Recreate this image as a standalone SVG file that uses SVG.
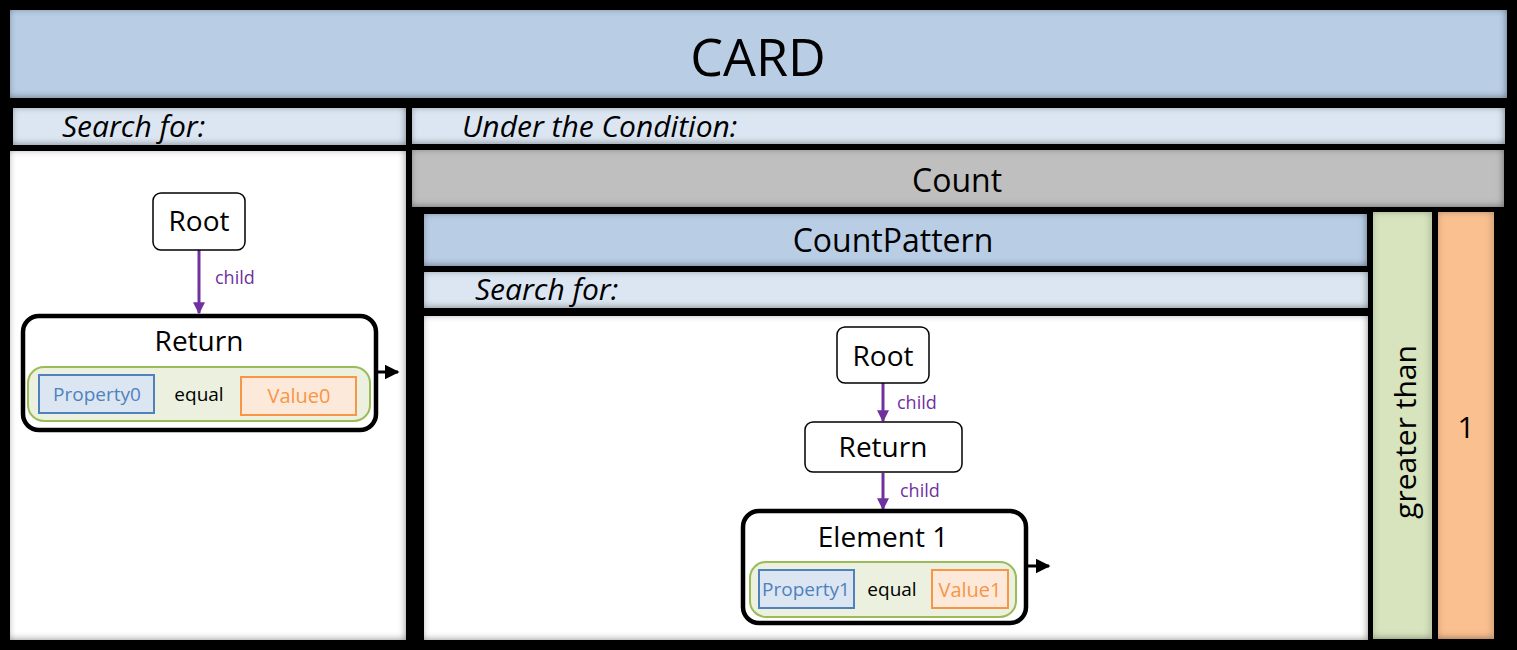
<svg xmlns="http://www.w3.org/2000/svg" width="1517" height="650" viewBox="0 0 1517 650">
<defs>
<filter id="inset" x="-5%" y="-20%" width="110%" height="140%">
<feFlood flood-color="#000" flood-opacity="0.75"/>
<feComposite in2="SourceAlpha" operator="out"/>
<feGaussianBlur stdDeviation="3.5"/>
<feOffset dx="-1" dy="-1.5"/>
<feComposite in2="SourceAlpha" operator="in" result="sh"/>
<feMerge><feMergeNode in="SourceGraphic"/><feMergeNode in="sh"/></feMerge>
</filter>
<marker id="pa" viewBox="0 0 10 10" refX="9" refY="5" markerWidth="4" markerHeight="4" orient="auto"><path d="M0,0 L10,5 L0,10 z" fill="#7030a0"/></marker>
<marker id="ba" viewBox="0 0 10 10" refX="9" refY="5" markerWidth="5" markerHeight="5" orient="auto"><path d="M0,0 L10,5 L0,10 z" fill="#000"/></marker>
</defs>
<style>
text{font-family:"Open Sans","Liberation Sans",sans-serif;fill:#000}
.panel{filter:url(#inset)}
.node{fill:#fff;stroke:#000;stroke-width:1.5}
.big{fill:#fff;stroke:#000;stroke-width:4.5}
.cond{fill:#ebf1de;stroke:#9bbb59;stroke-width:2}
.prop{fill:#dce6f2;stroke:#4f81bd;stroke-width:2}
.val{fill:#fde9d9;stroke:#f79646;stroke-width:2}
.pt{fill:#4f81bd;font-size:19px}
.vt{fill:#f79646;font-size:20px}
.eq{font-size:19px}
.lbl{fill:#7030a0;font-size:18px}
.it{font-style:italic;font-size:30px}
.nt{font-size:28px}
.edge{stroke:#7030a0;stroke-width:3;fill:none}
.out{stroke:#000;stroke-width:3;fill:none}
</style>
<rect x="0" y="0" width="1517" height="650" fill="#000"/>
<g id="card"><rect class="panel" x="10" y="10" width="1497" height="88" fill="#b9cde5"/><text x="758" y="76" font-size="52" text-anchor="middle">CARD</text></g>
<g id="search-left"><rect class="panel" x="13" y="108" width="393" height="37" fill="#dce6f2"/><text class="it" x="62" y="137">Search for:</text></g>
<g id="left-panel"><rect class="panel" x="10" y="151" width="396" height="489" fill="#fff"/></g>
<g id="condition"><rect class="panel" x="412" y="108" width="1093" height="36" fill="#dce6f2"/><text class="it" x="462" y="137">Under the Condition:</text></g>
<g id="count"><rect class="panel" x="412" y="150" width="1092" height="57" fill="#bfbfbf"/><text x="957" y="192" font-size="32" text-anchor="middle">Count</text></g>
<g id="countpattern"><rect class="panel" x="424" y="214" width="943" height="52" fill="#b9cde5"/><text x="893" y="252" font-size="32" text-anchor="middle">CountPattern</text></g>
<g id="search-right"><rect class="panel" x="424" y="272" width="944" height="36" fill="#dce6f2"/><text class="it" x="475" y="300">Search for:</text></g>
<g id="right-panel"><rect class="panel" x="424" y="316" width="944" height="324" fill="#fff"/></g>
<g id="greater-than"><rect class="panel" x="1373" y="212" width="59" height="427" fill="#d7e4bd"/><text transform="translate(1416,432) rotate(-90)" font-size="30" text-anchor="middle">greater than</text></g>
<g id="one"><rect class="panel" x="1438" y="212" width="56" height="427" fill="#fac090"/><text x="1466" y="438" font-size="30" text-anchor="middle">1</text></g>

<g id="connectors">
<line class="edge" x1="199" y1="250" x2="199" y2="313" marker-end="url(#pa)"/>
<line class="edge" x1="883" y1="383" x2="883" y2="421" marker-end="url(#pa)"/>
<line class="edge" x1="883" y1="473" x2="883" y2="509" marker-end="url(#pa)"/>
<line class="out" x1="377" y1="372" x2="398" y2="372" marker-end="url(#ba)"/>
<line class="out" x1="1027" y1="566" x2="1049" y2="566" marker-end="url(#ba)"/>
<text class="lbl" x="215" y="284">child</text>
<text class="lbl" x="897" y="409">child</text>
<text class="lbl" x="900" y="497">child</text>
</g>

<g id="root-left"><rect class="node" x="153" y="193" width="92" height="57" rx="8"/><text class="nt" x="199" y="231" text-anchor="middle">Root</text></g>
<g id="return-left"><rect class="big" x="23" y="316" width="353" height="114" rx="16"/><text class="nt" x="199" y="351" text-anchor="middle">Return</text>
<rect class="cond" x="28" y="367" width="342" height="54" rx="16"/>
<rect class="prop" x="39" y="375" width="115" height="38"/><text class="pt" x="97" y="401" text-anchor="middle">Property0</text>
<text class="eq" x="199" y="401" text-anchor="middle">equal</text>
<rect class="val" x="241" y="377" width="115" height="38"/><text class="vt" x="299" y="403" text-anchor="middle">Value0</text></g>

<g id="root-right"><rect class="node" x="837" y="327" width="92" height="56" rx="8"/><text class="nt" x="883" y="366" text-anchor="middle">Root</text></g>
<g id="return-right"><rect class="node" x="805" y="422" width="157" height="50" rx="8"/><text class="nt" x="883" y="457" text-anchor="middle">Return</text></g>
<g id="element1"><rect class="big" x="743" y="511" width="283" height="112" rx="16"/><text class="nt" x="883" y="547" text-anchor="middle">Element 1</text>
<rect class="cond" x="750" y="562" width="266" height="55" rx="16"/>
<rect class="prop" x="759" y="570" width="95" height="38"/><text class="pt" x="806" y="596" text-anchor="middle">Property1</text>
<text class="eq" x="892" y="596" text-anchor="middle">equal</text>
<rect class="val" x="932" y="570" width="76" height="38"/><text class="vt" x="970" y="597" text-anchor="middle">Value1</text></g>
</svg>
